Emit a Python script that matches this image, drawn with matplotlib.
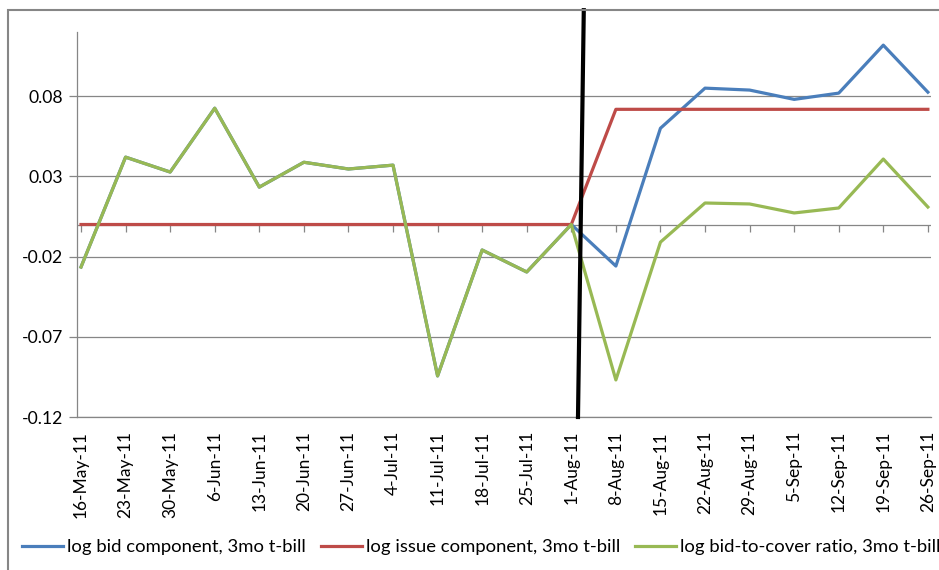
import numpy as np
import matplotlib.pyplot as plt
from matplotlib.patches import Rectangle

# weekly auction dates, 3mo t-bill
dates = ['16-May-11', '23-May-11', '30-May-11', '6-Jun-11', '13-Jun-11', '20-Jun-11',
         '27-Jun-11', '4-Jul-11', '11-Jul-11', '18-Jul-11', '25-Jul-11', '1-Aug-11',
         '8-Aug-11', '15-Aug-11', '22-Aug-11', '29-Aug-11', '5-Sep-11', '12-Sep-11',
         '19-Sep-11', '26-Sep-11']

bid = [-0.0265, 0.042, 0.0327, 0.0725, 0.0233, 0.0388, 0.0346, 0.037, -0.0944, -0.0159,
       -0.0296, 0.0, -0.0259, 0.060, 0.085, 0.0838, 0.078, 0.0819, 0.1118, 0.0825]
issue = [0.0, 0.0, 0.0, 0.0, 0.0, 0.0, 0.0, 0.0, 0.0, 0.0,
         0.0, 0.0, 0.0718, 0.0718, 0.0718, 0.0718, 0.0718, 0.0718, 0.0718, 0.0718]
btc = [-0.0265, 0.042, 0.0327, 0.0725, 0.0233, 0.0388, 0.0346, 0.037, -0.0944, -0.0159,
       -0.0296, 0.0, -0.0969, -0.011, 0.0134, 0.0128, 0.0072, 0.0103, 0.0408, 0.0109]

yticks = [-0.12, -0.07, -0.02, 0.03, 0.08]

plt.rcParams['font.family'] = ['Lato', 'DejaVu Sans']
gray = '#868686'

W, H = 939, 570
fig = plt.figure(figsize=(W / 100, H / 100), dpi=100)
ax = fig.add_axes([77 / W, 1 - 417 / H, (931 - 77) / W, (417 - 32) / H])

x = np.arange(len(dates))
ax.plot(x, bid, color='#4A7EBB', lw=2.3, label='log bid component, 3mo t-bill', zorder=3)
ax.plot(x, issue, color='#BE4B48', lw=2.3, label='log issue component, 3mo t-bill', zorder=3)
ax.plot(x, btc, color='#98B954', lw=2.3, label='log bid-to-cover ratio, 3mo t-bill', zorder=4)

# horizontal axis line at zero with tick marks
ax.axhline(0, color=gray, lw=0.9, zorder=1)
ax.plot(x, np.zeros(len(x)), ls='none', marker=3, ms=5, mew=0.9, color=gray, zorder=1)

ax.set_xlim(-0.09, 19.07)
ax.set_ylim(-0.12, 0.12)
ax.set_yticks(yticks)
ax.set_yticklabels([f'{v:.2f}' for v in yticks], fontsize=12.7)
ax.set_xticks(x)
ax.set_xticklabels(dates, rotation=90, fontsize=12.5)
ax.tick_params(axis='x', length=0, pad=10)
ax.tick_params(axis='y', length=6, color=gray, width=0.9, pad=4)
ax.grid(axis='y', color=gray, lw=0.9)
ax.set_axisbelow(True)
for s in ['top', 'right']:
    ax.spines[s].set_visible(False)
ax.spines['left'].set_color(gray)
ax.spines['bottom'].set_color(gray)
ax.spines['left'].set_linewidth(0.9)
ax.spines['bottom'].set_linewidth(0.9)

# slanted black marker line drawn over the chart near 1-Aug
ax.plot([11.28, 11.15], [0.1336, -0.12], color='black', lw=3, clip_on=False, zorder=5)

# outer chart frame (cut off at right and bottom)
fig.patches.append(Rectangle((8 / W, -0.2), 2, 1.2 - 10 / H, transform=fig.transFigure,
                             fill=False, edgecolor=gray, lw=1.5))
# remnant of the cropped title
fig.text(475 / W, 1 + 3 / H, 'g', ha='center', va='baseline', fontsize=14)

fig.legend(loc='center left', bbox_to_anchor=(22 / W, 1 - 547 / H), ncol=3, frameon=False,
           fontsize=13.3, handlelength=2.22, handletextpad=0.22, columnspacing=0.81,
           borderpad=0, borderaxespad=0)

fig.savefig('out.png', dpi=100)
